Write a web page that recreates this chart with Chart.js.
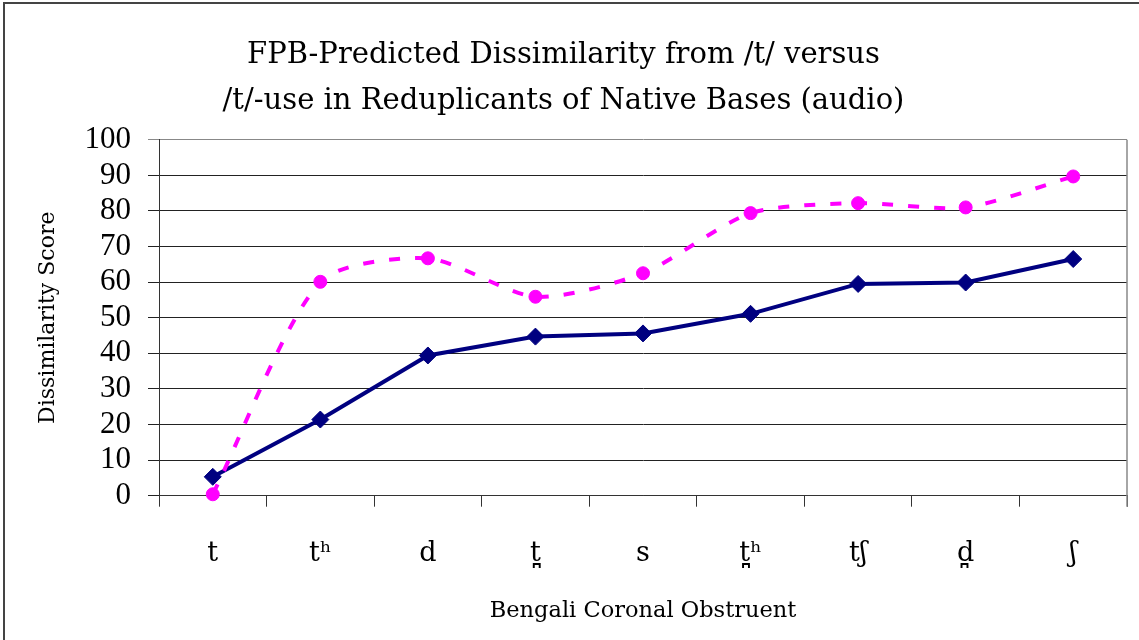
<!DOCTYPE html>
<html>
<head>
<meta charset="utf-8">
<script src="https://cdn.jsdelivr.net/npm/chart.js@4/dist/chart.umd.min.js"></script>
<style>
  html, body { margin: 0; padding: 0; background: #fff; overflow: hidden; }
  #frame { position: absolute; left: 3px; top: 2px; width: 1300px; height: 800px; border: 2px solid #444; }
  #wrap { position: absolute; left: 0; top: 0; width: 1139px; height: 640px; }
</style>
</head>
<body>
<div id="frame"></div>
<div id="wrap"><canvas id="chart" width="1139" height="640"></canvas></div>
<script>
// data
const categories = ['t', 't\u02B0', 'd', 't\u032A', 's', 't\u032A\u02B0', 't\u0283', 'd\u032A', '\u0283'];
const predicted = [0.4, 60.1, 66.7, 55.9, 62.5, 79.4, 82.2, 81.0, 89.7];
const reduplicantUse = [5.3, 21.4, 39.4, 44.7, 45.6, 51.1, 59.5, 59.9, 66.5];
const yTicks = [0, 10, 20, 30, 40, 50, 60, 70, 80, 90, 100];

const serif = '"Liberation Serif", "DejaVu Serif", serif';
const wideSerif = '"DejaVu Serif", "Liberation Serif", serif';

// gray right edge of the plot area, like the Excel frame
const plotEdge = {
  id: 'plotEdge',
  beforeDatasetsDraw(chart) {
    const a = chart.chartArea;
    const c = chart.ctx;
    c.save();
    c.strokeStyle = '#888';
    c.lineWidth = 1.5;
    c.beginPath();
    c.moveTo(a.right, a.top);
    c.lineTo(a.right, a.bottom + 11);
    c.stroke();
    c.restore();
  }
};

const ctx = document.getElementById('chart');

new Chart(ctx, {
  type: 'line',
  data: {
    labels: categories,
    datasets: [{
      label: 'FPB-predicted dissimilarity',
      data: predicted,
      borderColor: '#ff00ff',
      backgroundColor: '#ff00ff',
      borderWidth: 4,
      borderDash: [11, 15],
      tension: 0.25,
      pointStyle: 'circle',
      pointRadius: 6.5,
      pointBorderWidth: 1,
      pointBorderColor: '#ff00ff',
      pointBackgroundColor: '#ff00ff',
      clip: false
    }, {
      label: '/t/-use in reduplicants',
      data: reduplicantUse,
      borderColor: '#000080',
      backgroundColor: '#000080',
      borderWidth: 4,
      tension: 0,
      pointStyle: 'rectRot',
      pointRadius: 8.5,
      pointBorderWidth: 1,
      pointBorderColor: '#000080',
      pointBackgroundColor: '#000080',
      clip: false
    }]
  },
  options: {
    responsive: false,
    animation: false,
    layout: { padding: { left: 0, right: 12, top: 0, bottom: 0 } },
    plugins: {
      legend: { display: false },
      tooltip: { enabled: false },
      title: {
        display: true,
        text: ['FPB-Predicted Dissimilarity from /t/ versus', '/t/-use in Reduplicants of Native Bases (audio)'],
        color: '#000',
        font: { family: wideSerif, size: 29, weight: 'normal', lineHeight: 1.6 },
        padding: { top: 32, bottom: 15 }
      }
    },
    scales: {
      x: {
        offset: true,
        afterFit: (s) => { s.height = 144.3; },
        grid: { offset: true, drawOnChartArea: false, drawTicks: true, tickLength: 11, color: '#333' },
        border: { color: '#333', width: 1 },
        ticks: { color: '#000', font: { family: wideSerif, size: 27 }, padding: 31, maxRotation: 0 },
        title: {
          display: true,
          text: 'Bengali Coronal Obstruent',
          color: '#000',
          font: { family: wideSerif, size: 22.5 },
          padding: { top: 0, bottom: 15 }
        }
      },
      y: {
        min: 0,
        max: 100,
        afterFit: (s) => { s.width = 159; },
        afterBuildTicks: (s) => { s.ticks = yTicks.map(v => ({ value: v })); },
        grid: {
          color: (c) => (c.tick && c.tick.value === 100 ? '#888' : '#222'),
          lineWidth: 1,
          tickLength: 11
        },
        border: { color: '#333', width: 1 },
        ticks: { color: '#000', font: { family: serif, size: 31 }, padding: 17, autoSkip: false },
        title: {
          display: true,
          text: 'Dissimilarity Score',
          color: '#000',
          font: { family: wideSerif, size: 22 },
          padding: { top: 35, bottom: 0 }
        }
      }
    }
  },
  plugins: [plotEdge]
});
</script>
</body>
</html>
